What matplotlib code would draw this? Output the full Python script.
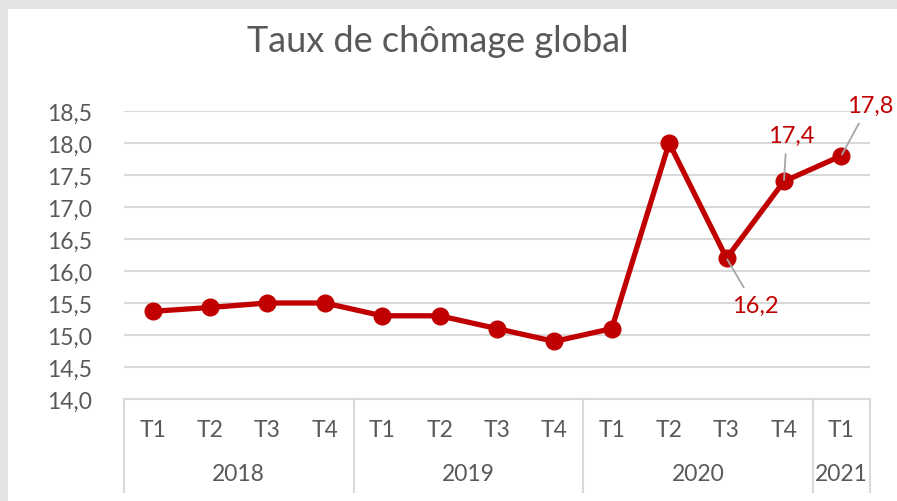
import matplotlib
matplotlib.use("Agg")
from matplotlib import pyplot as plt
from matplotlib.patches import Rectangle
from matplotlib.lines import Line2D

# donnees
trimestres = ['T1', 'T2', 'T3', 'T4', 'T1', 'T2', 'T3', 'T4', 'T1', 'T2', 'T3', 'T4', 'T1']
annees = ['2018', '2019', '2020', '2021']
taille_annees = [4, 4, 4, 1]
taux = [15.37, 15.43, 15.5, 15.5, 15.3, 15.3, 15.1, 14.9, 15.1, 18.0, 16.2, 17.4, 17.8]

ROUGE = '#C00000'
GRIS_TXT = '#595959'
GRIS_LIGNE = '#D9D9D9'
FONT = 'Lato'
TAILLE = 16.5

fig = plt.figure(figsize=(8.97, 5.02), dpi=100)
fig.patch.set_facecolor('white')
# bordure grise (fenetre excel)
fig.add_artist(Rectangle((0, 0), 8 / 897, 1, transform=fig.transFigure, color='#E4E4E4', lw=0))
fig.add_artist(Rectangle((0, 1 - 10 / 502), 1, 10 / 502, transform=fig.transFigure, color='#E4E4E4', lw=0))

ax = fig.add_axes([124 / 897, 102 / 502, 746 / 897, 288 / 502])
x = list(range(len(taux)))
ax.plot(x, taux, color=ROUGE, lw=3.8, marker='o', markersize=12, zorder=3)

ax.set_xlim(-0.5, len(taux) - 0.5)
ax.set_ylim(14.0, 18.5)
yt = [14.0 + 0.5 * i for i in range(10)]
ax.set_yticks(yt)
ax.set_yticklabels(['{:.1f}'.format(v).replace('.', ',') for v in yt],
                   fontsize=TAILLE, color=GRIS_TXT, family=FONT)
ax.tick_params(axis='y', length=0, pad=23)
ax.grid(axis='y', color=GRIS_LIGNE, lw=1.5)
ax.set_axisbelow(True)
for s in ['top', 'right', 'left']:
    ax.spines[s].set_visible(False)
ax.spines['bottom'].set_color(GRIS_LIGNE)
ax.spines['bottom'].set_linewidth(1.5)
ax.set_xticks([])

# axe des categories a deux niveaux
trans = ax.get_xaxis_transform()
bas = -(493 - 400) / 288
for i, t in enumerate(trimestres):
    ax.text(i, -(431 - 400) / 288, t, transform=trans, ha='center', va='center',
            fontsize=TAILLE, color=GRIS_TXT, family=FONT)
debut = -0.5
bords = [debut]
for an, n in zip(annees, taille_annees):
    ax.text(debut + n / 2, -(475 - 400) / 288, an, transform=trans, ha='center', va='center',
            fontsize=TAILLE, color=GRIS_TXT, family=FONT)
    debut += n
    bords.append(debut)
for b in bords:
    ax.add_line(Line2D([b, b], [0, bas], transform=trans, color=GRIS_LIGNE, lw=1.5, clip_on=False))

# etiquettes de donnees : (decalage x, decalage y, point d'accroche du trait)
etiquettes = {12: (0.5, 0.79, (0.35, 0.0)),
              11: (0.12, 0.72, (0.4, 0.0)),
              10: (0.5, -0.74, (0.35, 1.0))}
for i, (dx, dy, rp) in etiquettes.items():
    ax.annotate('{:.1f}'.format(taux[i]).replace('.', ','), xy=(i, taux[i]),
                xytext=(i + dx, taux[i] + dy), ha='center', va='center',
                fontsize=17, color=ROUGE, family=FONT, annotation_clip=False,
                arrowprops=dict(arrowstyle='-', color='#A6A6A6', lw=1.3, relpos=rp,
                                shrinkA=4, shrinkB=1))

fig.text(438 / 897, 1 - 41 / 502, 'Taux de chômage global', ha='center', va='center',
         fontsize=26, color=GRIS_TXT, family=FONT)

fig.savefig('out.png', dpi=100)
